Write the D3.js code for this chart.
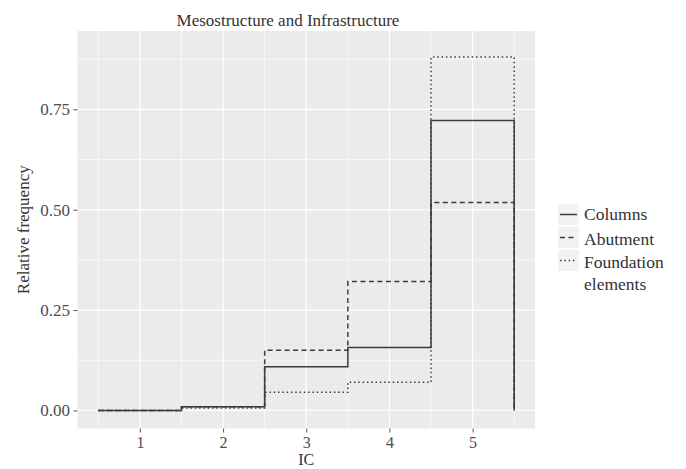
<!DOCTYPE html>
<html>
<head>
<meta charset="utf-8">
<script src="https://cdn.jsdelivr.net/npm/d3@7"></script>
<style>
  body { margin: 0; background: #fff; }
  svg, svg text { font-family: "Liberation Serif", "DejaVu Serif", serif !important; }
</style>
</head>
<body>
<svg id="chart" width="686" height="469" font-family="Liberation Serif, serif"></svg>
<script>
// ---- data ----
const categories = [1, 2, 3, 4, 5];
const seriesNames = ["Columns", "Abutment", "Foundation elements"];
const columnsValues = [0.000, 0.009, 0.109, 0.157, 0.722];
const abutmentValues = [0.000, 0.009, 0.150, 0.321, 0.518];
const foundationValues = [0.000, 0.006, 0.045, 0.070, 0.880];
const yTickValues = [0, 0.25, 0.5, 0.75];
const yTickLabels = ["0.00", "0.25", "0.50", "0.75"];
const xTickLabels = ["1", "2", "3", "4", "5"];
const titleText = "Mesostructure and Infrastructure";
const xTitle = "IC";
const yTitle = "Relative frequency";

// ---- layout ----
const FONT = "Liberation Serif, serif";
const svg = d3.select("#chart");
const panel = { left: 77.5, right: 535, top: 31, bottom: 428.5 };
const x = d3.scaleLinear().domain([0.25, 5.75]).range([panel.left, panel.right]);
const y = d3.scaleLinear().domain([-0.045, 0.945]).range([panel.bottom, panel.top]);

svg.append("rect")
  .attr("x", panel.left).attr("y", panel.top)
  .attr("width", panel.right - panel.left).attr("height", panel.bottom - panel.top)
  .attr("fill", "#EBEBEB");

// minor grid
const xMinor = d3.range(0.5, 6, 1);
const yMinor = [0.125, 0.375, 0.625, 0.875];
const grid = svg.append("g");
grid.selectAll(".vminor").data(xMinor).enter().append("line")
  .attr("x1", d => x(d)).attr("x2", d => x(d))
  .attr("y1", panel.top).attr("y2", panel.bottom)
  .attr("stroke", "#fff").attr("stroke-width", 0.6);
grid.selectAll(".hminor").data(yMinor).enter().append("line")
  .attr("y1", d => y(d)).attr("y2", d => y(d))
  .attr("x1", panel.left).attr("x2", panel.right)
  .attr("stroke", "#fff").attr("stroke-width", 0.6);
// major grid
grid.selectAll(".vmajor").data(categories).enter().append("line")
  .attr("x1", d => x(d)).attr("x2", d => x(d))
  .attr("y1", panel.top).attr("y2", panel.bottom)
  .attr("stroke", "#fff").attr("stroke-width", 1.2);
grid.selectAll(".hmajor").data(yTickValues).enter().append("line")
  .attr("y1", d => y(d)).attr("y2", d => y(d))
  .attr("x1", panel.left).attr("x2", panel.right)
  .attr("stroke", "#fff").attr("stroke-width", 1.2);

// axes
const xAxis = d3.axisBottom(x).tickValues(categories)
  .tickFormat((d, i) => xTickLabels[i]).tickSize(4).tickPadding(4);
const gx = svg.append("g").attr("transform", `translate(0,${panel.bottom})`).call(xAxis)
  .attr("font-family", FONT);
gx.select(".domain").remove();
gx.selectAll(".tick line").attr("stroke", "#555");
gx.selectAll(".tick text").attr("fill", "#4d4d4d").attr("font-size", 16)
  .attr("font-family", FONT);

const yAxis = d3.axisLeft(y).tickValues(yTickValues)
  .tickFormat((d, i) => yTickLabels[i]).tickSize(4).tickPadding(3.5);
const gy = svg.append("g").attr("transform", `translate(${panel.left},0)`).call(yAxis)
  .attr("font-family", FONT);
gy.select(".domain").remove();
gy.selectAll(".tick line").attr("stroke", "#555");
gy.selectAll(".tick text").attr("fill", "#4d4d4d").attr("font-size", 17)
  .attr("font-family", FONT);

// step lines
const styles = [
  { dash: null },
  { dash: "5,3.5" },
  { dash: "1.5,2.8" }
];
const allValues = [columnsValues, abutmentValues, foundationValues];
function stepPoints(vals) {
  const pts = [];
  vals.forEach((v, i) => {
    pts.push([categories[i] - 0.5, v]);
    pts.push([categories[i] + 0.5, v]);
  });
  pts.push([categories[categories.length - 1] + 0.5, 0]);
  return pts;
}
const line = d3.line().x(d => x(d[0])).y(d => y(d[1]));
allValues.forEach((vals, i) => {
  svg.append("path")
    .attr("d", line(stepPoints(vals)))
    .attr("fill", "none")
    .attr("stroke", "#3c3c3c")
    .attr("stroke-width", 1.5)
    .attr("stroke-dasharray", styles[i].dash);
});

// titles
svg.append("text").attr("x", 288).attr("y", 26)
  .attr("text-anchor", "middle").attr("font-size", 17).attr("fill", "#333")
  .attr("font-family", FONT)
  .text(titleText);
svg.append("text").attr("x", x(3)).attr("y", 465)
  .attr("text-anchor", "middle").attr("font-size", 16).attr("fill", "#333")
  .attr("font-family", FONT)
  .text(xTitle);
svg.append("text")
  .attr("transform", `translate(29,${(panel.top + panel.bottom) / 2}) rotate(-90)`)
  .attr("text-anchor", "middle").attr("font-size", 17).attr("fill", "#333")
  .attr("font-family", FONT)
  .text(yTitle);

// legend
const legend = svg.append("g").attr("font-family", FONT);
const keyX = 558, keyW = 21, keyH = 21;
const keyTops = [204, 227, 250];
seriesNames.forEach((name, i) => {
  const top = keyTops[i];
  legend.append("rect").attr("x", keyX).attr("y", top)
    .attr("width", keyW).attr("height", keyH).attr("fill", "#F2F2F2");
  legend.append("line")
    .attr("x1", keyX + 2).attr("x2", keyX + keyW - 2)
    .attr("y1", top + keyH / 2).attr("y2", top + keyH / 2)
    .attr("stroke", "#3c3c3c").attr("stroke-width", 1.5)
    .attr("stroke-dasharray", styles[i].dash);
});
const legendLines = [["Columns"], ["Abutment"], ["Foundation", "elements"]];
const textBaselines = [220, 245, 268];
legendLines.forEach((parts, i) => {
  const t = legend.append("text").attr("x", 584).attr("y", textBaselines[i])
    .attr("font-size", 17.5).attr("fill", "#333").attr("font-family", FONT);
  parts.forEach((p, j) => {
    t.append("tspan").attr("x", 584).attr("dy", j === 0 ? 0 : 22).text(p);
  });
});
</script>
</body>
</html>
